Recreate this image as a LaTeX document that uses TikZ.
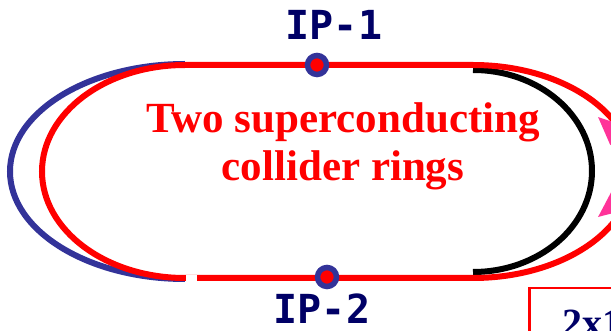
\documentclass[tikz,border=0pt]{standalone}
\usepackage{fontspec}
\setmainfont{Liberation Serif}
\newfontfamily\ipfont{DejaVu Sans Mono}
\usetikzlibrary{arrows.meta,positioning}
\definecolor{ringblue}{RGB}{51,51,153}
\definecolor{ipnavy}{RGB}{0,0,102}
\definecolor{injpink}{RGB}{255,51,153}

\begin{document}
\begin{tikzpicture}[x=1pt,y=-1pt,
  every node/.style={inner sep=0pt},
  ring/.style={line width=6pt},
  ipdot/.style={circle,draw=ringblue,fill=red,line width=5.5pt,minimum size=19pt},
  iplabel/.style={text=ipnavy,font=\ipfont\bfseries\fontsize{40}{40}\selectfont}]
\clip (0,0) rectangle (611,331);
% outer left arc and black right arc
\draw[ring,ringblue] (185,64) arc[start angle=90,end angle=270,x radius=175pt,y radius=107.5pt];
\draw[ring,black] (473,70) arc[start angle=90,end angle=-90,x radius=119pt,y radius=101pt];
% red ring
\draw[ring,red] (198,278) -- (185,278) arc[start angle=270,end angle=90,x radius=143pt,y radius=106.5pt]
  -- (473,65) arc[start angle=90,end angle=-90,x radius=160pt,y radius=106.5pt] -- (198,278);
\draw[white,line width=7pt] (186,278.5) -- (197,278.5);
\node[text=red,align=center,font=\bfseries\fontsize{43}{48}\selectfont] (rings) at (343,146)
  {Two superconducting\\collider rings};
% interaction points
\node[ipdot] (ip1dot) at (317,65) {};
\node[ipdot] (ip2dot) at (327,277) {};
\node[iplabel] (ip1) at (334,25) {IP-1};
\node[iplabel] (ip2) at (322,309) {IP-2};
% injection arrows
\coordinate (injA) at (645,160);
\coordinate (injB) at (645,180);
\coordinate (tipA) at (598,117);
\coordinate (tipB) at (598,217);
\draw[-{Triangle[length=28pt,width=24pt]},injpink,line width=3pt] (injA) -- (tipA);
\draw[-{Triangle[length=28pt,width=24pt]},injpink,line width=3pt] (injB) -- (tipB);
% box
\node[draw=red,line width=2.5pt,anchor=north west,minimum width=150pt,minimum height=90pt] (box) at (528,287) {};
\node[anchor=base west,text=ipnavy,font=\bfseries\fontsize{40}{40}\selectfont] (boxtext) at (562,337) {2x1};
\end{tikzpicture}
\end{document}
